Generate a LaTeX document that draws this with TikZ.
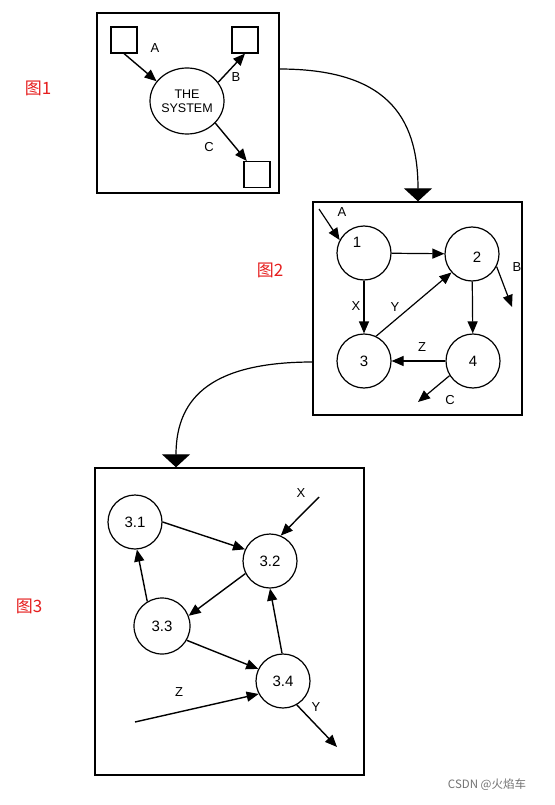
\documentclass[tikz,border=0pt]{standalone}
\usepackage{fontspec}
\setmainfont{Liberation Sans}
\newfontfamily\cjk{Noto Sans CJK SC}
\usetikzlibrary{arrows.meta,shapes.geometric}
\definecolor{figred}{RGB}{230,30,30}
\begin{document}
\begin{tikzpicture}[x=1pt,y=-1pt,
  frame/.style={draw,line width=1.4pt,inner sep=0pt},
  sq/.style={draw,line width=1.1pt,minimum size=26pt,inner sep=0pt},
  bub/.style={draw,circle,line width=1.2pt,minimum size=54pt,inner sep=0pt,font=\fontsize{15}{17}\selectfont},
  flow/.style={line width=1.4pt,-{Triangle[length=12pt,width=10pt]}},
  bigflow/.style={line width=1.2pt,-{Triangle[length=13pt,width=28pt]}},
  lab/.style={font=\fontsize{13}{15}\selectfont,inner sep=0pt},
  fig/.style={font=\cjk\fontsize{17}{19}\selectfont,text=figred,inner sep=0pt}]
\fill[white] (0,0) rectangle (554,805);
\useasboundingbox (0,0) rectangle (554,805);

% ---------- box 1
\node[frame,minimum width=182pt,minimum height=180pt] (box1) at (188,103) {};
\node[sq] (sq1) at (124,40) {};
\node[sq] (sq2) at (245,40) {};
\node[sq] (sq3) at (257,174.5) {};
\node[draw,ellipse,line width=1.2pt,minimum width=74pt,minimum height=66pt,inner sep=0pt,
      align=center,font=\fontsize{12.5}{14}\selectfont] (sys) at (187,101) {THE\\SYSTEM};
\draw[flow] (sq1.south) -- (sys.147);
\draw[flow] (sys.31) -- (sq2.south);
\draw[flow] (sys.-38) -- (sq3.127);
\node[lab] (la1) at (155,48) {A};
\node[lab] (lb1) at (236,77) {B};
\node[lab] (lc1) at (209,147) {C};

% ---------- box 2
\node[frame,minimum width=209pt,minimum height=213pt] (box2) at (417.5,308.5) {};
\node[bub] (c1) at (364,253) {};
\node[lab,font=\fontsize{15}{17}\selectfont] at (357,242) {1};
\node[bub] (c2) at (472,254) {};
\node[lab,font=\fontsize{15}{17}\selectfont] at (477,257) {2};
\node[bub] (c3) at (364,361) {3};
\node[bub] (c4) at (473,361) {4};
\coordinate (ain) at (319,209);
\coordinate (bout) at (512,307);
\coordinate (cout) at (418,402);
\draw[flow,line width=1.2pt] (ain) -- (c1.152);
\draw[flow,line width=1.2pt] (c1) -- (c2);
\draw[flow,line width=1.2pt] (c2.-27) -- (bout);
\draw[flow,line width=1.2pt] (c1) -- (c3);
\draw[flow,line width=1.2pt] (c3.64) -- (c2.222);
\draw[flow,line width=1.2pt] (c2) -- (c4);
\draw[flow,line width=1.2pt] (c4) -- (c3);
\draw[flow,line width=1.2pt] (c4.212) -- (cout);
\node[lab] at (342,212) {A};
\node[lab] at (517,267) {B};
\node[lab] at (356,306) {X};
\node[lab] at (395,307) {Y};
\node[lab] at (422,347) {Z};
\node[lab] at (450,400) {C};

% ---------- box 3
\node[frame,minimum width=269pt,minimum height=307pt] (box3) at (229.5,621.5) {};
\node[bub] (n31) at (135,522) {3.1};
\node[bub] (n32) at (270,561) {3.2};
\node[bub,minimum size=56pt] (n33) at (162,626) {3.3};
\node[bub] (n34) at (283,681) {3.4};
\coordinate (xin) at (319,497);
\coordinate (zin) at (135,722);
\coordinate (yout) at (337,747);
\draw[flow] (n31.0) -- (n32.155);
\draw[flow] (xin) -- (n32.67);
\draw[flow] (n32.207) -- (n33.21);
\draw[flow] (n33.121) -- (n31.274);
\draw[flow] (n33.-30) -- (n34.154);
\draw[flow] (n34.92) -- (n32.270);
\draw[flow] (zin) -- (n34.208);
\draw[flow] (n34.-60) -- (yout);
\node[lab] at (301,493) {X};
\node[lab] at (179,692) {Z};
\node[lab] at (316,707) {Y};

% ---------- links between boxes
\coordinate (k1) at (279,69);
\coordinate (k2) at (313,362);
\draw[bigflow] (k1) .. controls (385,69) and (418,115) .. (box2.north -| 418,0);
\draw[bigflow] (k2) .. controls (215,362) and (176,395) .. (box3.north -| 176,0);

% ---------- figure labels
\node[fig] (f1) at (38,88) {图1};
\node[fig] (f2) at (270,270) {图2};
\node[fig] (f3) at (29,606) {图3};
\node[font=\cjk\fontsize{11.5}{13}\selectfont,text=black!55,inner sep=0pt] (wm) at (487,785) {CSDN @火焰车};
\end{tikzpicture}
\end{document}
